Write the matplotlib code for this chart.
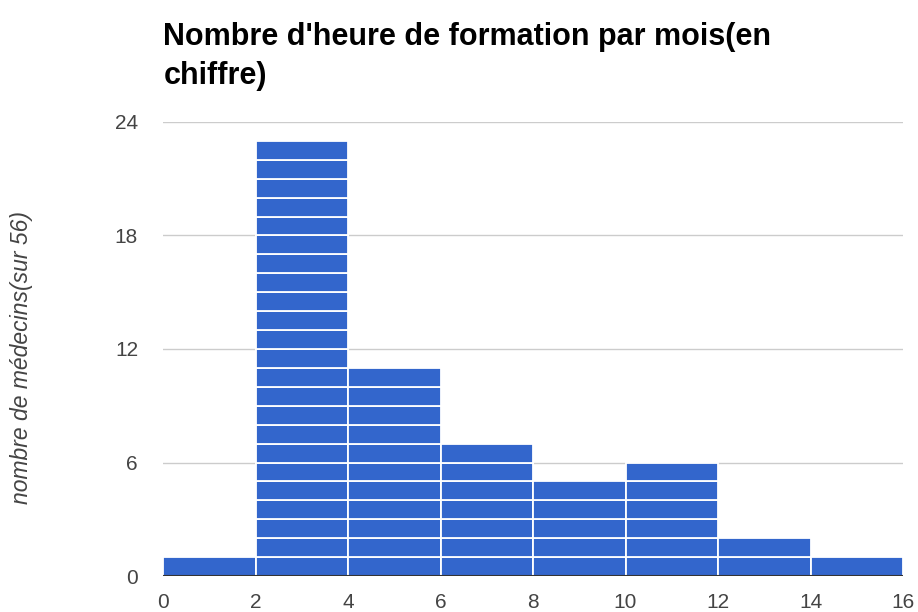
import numpy as np
import matplotlib.pyplot as plt

plt.rcParams['font.family'] = ['Liberation Sans', 'DejaVu Sans']

# histogram bins (hours per month) and number of doctors in each
bin_left = [0, 2, 4, 6, 8, 10, 12, 14]
bin_width = 2
counts = [1, 23, 11, 7, 5, 6, 2, 1]
y_ticks = [0, 6, 12, 18, 24]
x_ticks = [0, 2, 4, 6, 8, 10, 12, 14, 16]

bar_color = '#3366cc'

fig = plt.figure(figsize=(9.18, 6.12), dpi=100)
ax = fig.add_axes([0.1776, 0.0588, 0.8061, 0.7419])

# google-style histogram: one block per item, stacked
for left, n in zip(bin_left, counts):
    for k in range(n):
        ax.bar(left, 1, width=bin_width, bottom=k, align='edge',
               color=bar_color, edgecolor='white', linewidth=1.3, zorder=2)

ax.set_xlim(0, 16)
ax.set_ylim(0, 24)
ax.set_yticks(y_ticks)
ax.set_xticks(x_ticks)
ax.grid(axis='y', color='#cccccc', linewidth=1, zorder=0)
ax.axhline(0, color='#333333', linewidth=1.5, zorder=3)
for s in ax.spines.values():
    s.set_visible(False)
ax.tick_params(length=0, labelsize=15, colors='#444444')
ax.tick_params(axis='y', pad=18)
ax.tick_params(axis='x', pad=12)

fig.text(22 / 918, 1 - 357 / 612, 'nombre de médecins(sur 56)', fontsize=16.5,
         style='italic', color='#444444', rotation=90, ha='center', va='center')

fig.text(0.178, 0.964, "Nombre d'heure de formation par mois(en\nchiffre)",
         fontsize=22, fontweight='bold', ha='left', va='top', linespacing=1.4)

fig.savefig('out.png', dpi=100)
